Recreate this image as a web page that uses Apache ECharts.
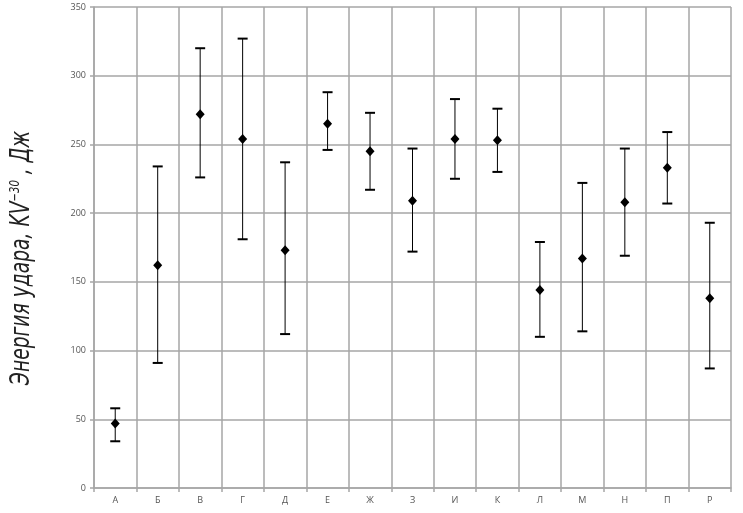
<!DOCTYPE html>
<html>
<head>
<meta charset="utf-8">
<script src="https://cdn.jsdelivr.net/npm/echarts@6/dist/echarts.min.js"></script>
<style>
  html, body { margin: 0; padding: 0; background: #fff; }
  #chart { width: 743px; height: 513px; }
</style>
</head>
<body>
<div id="chart"></div>
<script>
const categories = ['А', 'Б', 'В', 'Г', 'Д', 'Е', 'Ж', 'З', 'И', 'К', 'Л', 'М', 'Н', 'П', 'Р']
const meanValues = [47, 162, 272, 254, 173, 265, 245, 209, 254, 253, 144, 167, 208, 233, 138]
const lowValues = [34, 91, 226, 181, 112, 246, 217, 172, 225, 230, 110, 114, 169, 207, 87]
const highValues = [58, 234, 320, 327, 237, 288, 273, 247, 283, 276, 179, 222, 247, 259, 193]

const gridColor = '#a6a6a6'

const chart = echarts.init(document.getElementById('chart'))

const option = {
  animation: false,
  grid: { left: 94, right: 12, top: 7, bottom: 25 },
  // y axis title drawn as text, squeezed to look like the narrow font of the original
  graphic: [
    {
      type: 'text',
      x: 22,
      y: 258,
      rotation: Math.PI / 2,
      scaleX: 0.72,
      style: {
        text: '{n|Энергия удара, KV}{s|−30}{n| , Дж}',
        align: 'center',
        verticalAlign: 'middle',
        rich: {
          n: { fontSize: 26, fontStyle: 'italic', fontWeight: 200, fontFamily: 'DejaVu Sans', fill: '#222' },
          s: { fontSize: 14, fontStyle: 'italic', fontWeight: 200, fontFamily: 'DejaVu Sans', fill: '#222', verticalAlign: 'top', padding: [0, 0, 14, 0] }
        }
      }
    }
  ],
  xAxis: {
    type: 'category',
    data: categories,
    axisLine: { lineStyle: { color: gridColor, width: 1.5 } },
    axisTick: { show: true, length: 4, lineStyle: { color: gridColor, width: 1.5 } },
    axisLabel: { color: '#555', fontSize: 9, fontFamily: 'Open Sans', margin: 8 },
    splitLine: { show: true, lineStyle: { color: gridColor, width: 1.5 } }
  },
  yAxis: {
    type: 'value',
    min: 0,
    max: 350,
    interval: 50,
    axisLine: { show: true, lineStyle: { color: gridColor, width: 1.5 } },
    axisTick: { show: true, length: 4, lineStyle: { color: gridColor, width: 1.5 } },
    axisLabel: { color: '#555', fontSize: 9, fontFamily: 'Open Sans', margin: 8 },
    splitLine: { show: true, lineStyle: { color: gridColor, width: 1.5 } }
  },
  series: [
    {
      type: 'custom',
      name: 'errors',
      data: categories.map((c, i) => [i, lowValues[i], highValues[i]]),
      renderItem: function (params, api) {
        const x = api.value(0)
        const lo = api.coord([x, api.value(1)])
        const hi = api.coord([x, api.value(2)])
        const half = 5
        const style = { stroke: '#000', lineWidth: 1 }
        const capStyle = { stroke: '#000', lineWidth: 2 }
        return {
          type: 'group',
          children: [
            { type: 'line', shape: { x1: hi[0], y1: hi[1], x2: lo[0], y2: lo[1] }, style: style },
            { type: 'line', shape: { x1: hi[0] - half, y1: hi[1], x2: hi[0] + half, y2: hi[1] }, style: capStyle },
            { type: 'line', shape: { x1: lo[0] - half, y1: lo[1], x2: lo[0] + half, y2: lo[1] }, style: capStyle }
          ]
        }
      },
      encode: { x: 0, y: [1, 2] },
      z: 3
    },
    {
      type: 'scatter',
      name: 'mean',
      data: meanValues,
      symbol: 'diamond',
      symbolSize: [9, 10],
      itemStyle: { color: '#000', opacity: 1 },
      z: 4
    }
  ]
}

chart.setOption(option)
</script>
</body>
</html>
